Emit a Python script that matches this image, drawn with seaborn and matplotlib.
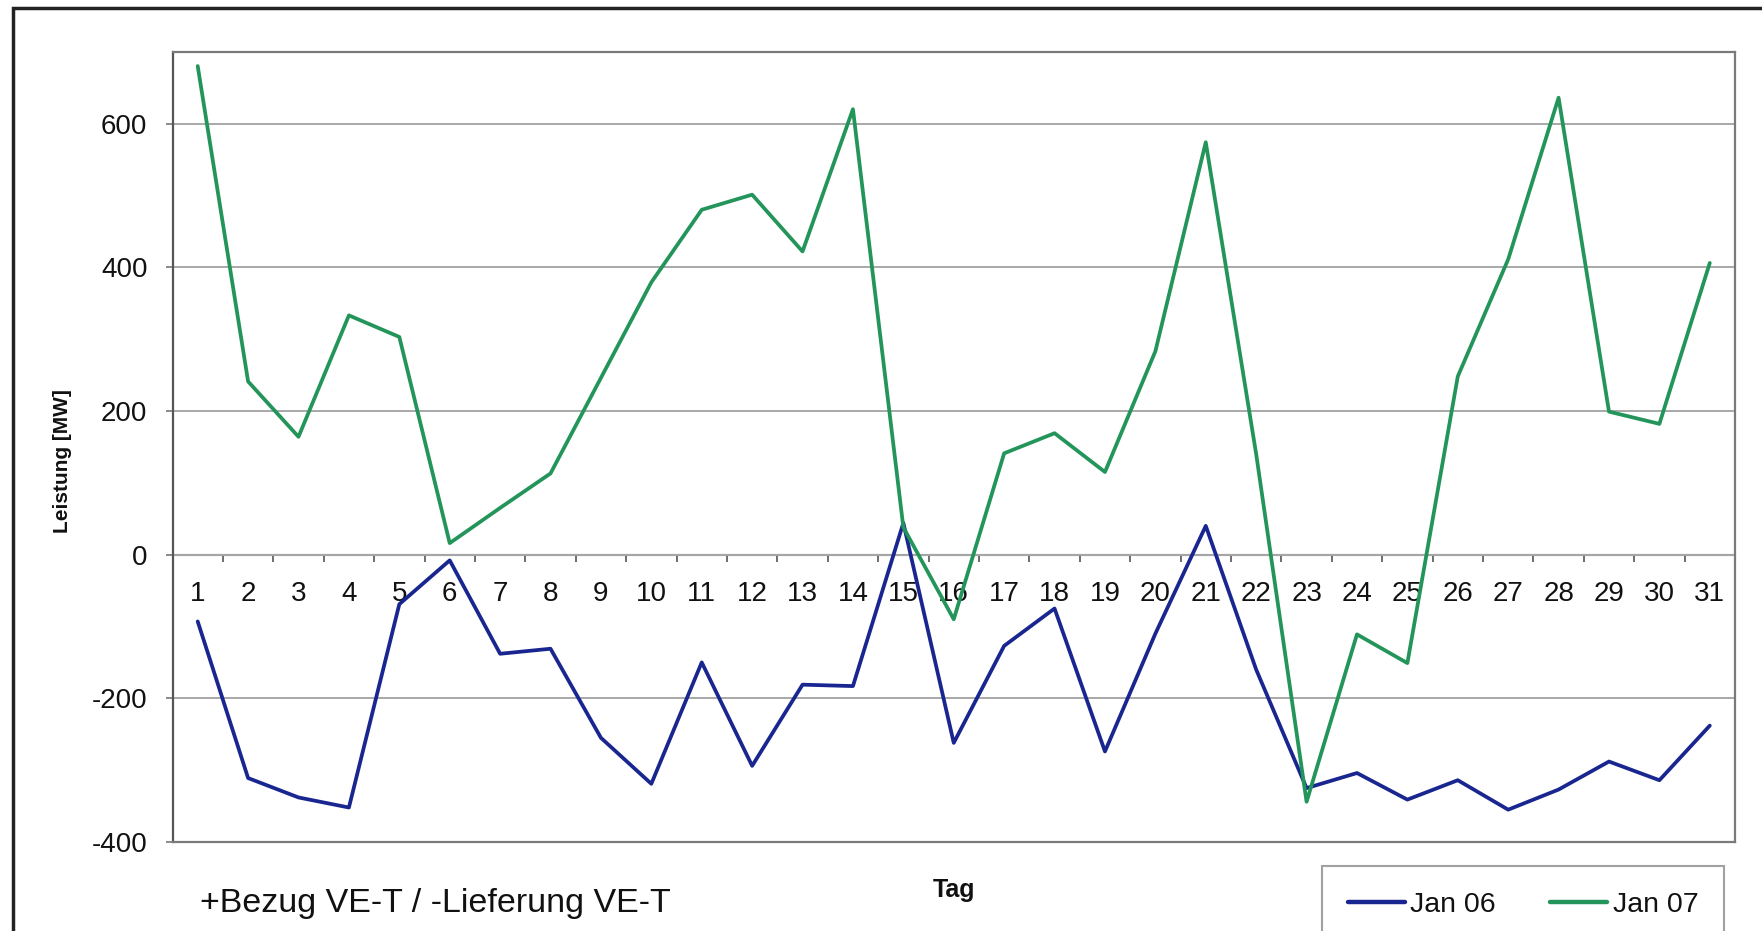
import matplotlib
matplotlib.use("Agg")
import matplotlib.pyplot as plt
from matplotlib.patches import Rectangle
from matplotlib.ticker import FixedLocator
import numpy as np
import pandas as pd
import seaborn as sns

# Daily values (MW) for January 2006 and January 2007
days = list(range(1, 32))
jan06 = [-93, -311, -338, -352, -69, -8, -138, -131, -255, -319,
         -150, -294, -181, -183, 44, -262, -127, -75, -274, -110,
         40, -160, -325, -304, -341, -314, -355, -327, -288, -314, -238]
jan07 = [680, 241, 164, 333, 303, 16, 65, 113, 246, 379,
         480, 501, 422, 620, 38, -90, 141, 169, 115, 283,
         574, 140, -344, -111, -151, 248, 411, 636, 199, 182, 406]
series_names = ["Jan 06", "Jan 07"]
series_colors = {"Jan 06": "#1a2690", "Jan 07": "#23955a"}

y_ticks = [-400, -200, 0, 200, 400, 600]
y_min, y_max = -400, 700

x_label = "Tag"
y_label = "Leistung [MW]"
note = "+Bezug VE-T / -Lieferung VE-T"

df = pd.DataFrame({
    "Tag": days * 2,
    "Leistung": jan06 + jan07,
    "Serie": [series_names[0]] * len(days) + [series_names[1]] * len(days),
})

sns.set_theme(style="white")
plt.rcParams["font.family"] = ["Liberation Sans", "DejaVu Sans"]

W, H = 1762, 931
fig = plt.figure(figsize=(W / 100, H / 100), dpi=100)
fig.patch.set_facecolor("white")

left, right, top, bottom = 172.5, 1735, 51.7, 842
ax = fig.add_axes([left / W, 1 - bottom / H, (right - left) / W, (bottom - top) / H])

sns.lineplot(data=df, x="Tag", y="Leistung", hue="Serie", palette=series_colors,
             linewidth=2.7, ax=ax, zorder=3)

ax.set_xlim(0.5, 31.5)
ax.set_ylim(y_min, y_max)
ax.set_yticks(y_ticks)
ax.set_yticklabels([str(v) for v in y_ticks])
ax.set_xticks([])

# horizontal gridlines
ax.yaxis.grid(True, color="#a8a8a8", linewidth=1.4)
ax.set_axisbelow(True)

for side in ["left", "right", "top", "bottom"]:
    ax.spines[side].set_visible(True)
    ax.spines[side].set_color("#7a7a7a")
    ax.spines[side].set_linewidth(1.6)
ax.spines["left"].set_color("#555555")

ax.tick_params(axis="y", which="major", direction="out", length=5, width=1.2,
               color="#777777", left=True, pad=13, labelsize=20, labelcolor="#111111")

ax.set_xlabel(x_label, fontsize=18, fontweight="bold", labelpad=26, color="#111111")
ax.set_ylabel(y_label, fontsize=15, fontweight="bold", color="#111111")
ax.yaxis.set_label_coords(-0.0643, 0.482)

# category axis crossing at zero
zero_frac = (0 - y_min) / (y_max - y_min)
sec = ax.secondary_xaxis(zero_frac)
sec.spines["bottom"].set_color("#555555")
sec.spines["bottom"].set_linewidth(1.5)
sec.xaxis.set_major_locator(FixedLocator(days))
sec.xaxis.set_ticklabels([str(d) for d in days])
sec.xaxis.set_minor_locator(FixedLocator(np.arange(0.5, 32, 1.0)))
sec.tick_params(axis="x", which="major", length=0, pad=19, labelsize=20,
                labelcolor="#111111", bottom=True)
sec.tick_params(axis="x", which="minor", length=5, width=1.2, direction="out",
                color="#555555", bottom=True)

# legend
handles, labels = ax.get_legend_handles_labels()
if ax.legend_:
    ax.legend_.remove()
leg = fig.legend(handles, labels, loc="upper left",
                 bbox_to_anchor=(1322 / W, 1 - 866 / H), ncol=2, fontsize=20.5,
                 frameon=True, fancybox=False, edgecolor="#8a8a8a",
                 handlelength=2.0, handletextpad=0.2, columnspacing=1.9,
                 borderpad=0.9, borderaxespad=0)
leg.get_frame().set_linewidth(1.5)
for t in leg.get_texts():
    t.set_color("#111111")
for line in leg.get_lines():
    line.set_linewidth(3.2)

fig.text(200 / W, 1 - 912 / H, note, fontsize=24.5, color="#111111",
         ha="left", va="baseline")

# outer chart frame
frame = Rectangle((13 / W, -0.05), 1.2, 1.05 - 8 / H, transform=fig.transFigure,
                  fill=False, edgecolor="#222222", linewidth=2.5, clip_on=False)
fig.add_artist(frame)

fig.savefig("out.png", dpi=100, facecolor="white")
